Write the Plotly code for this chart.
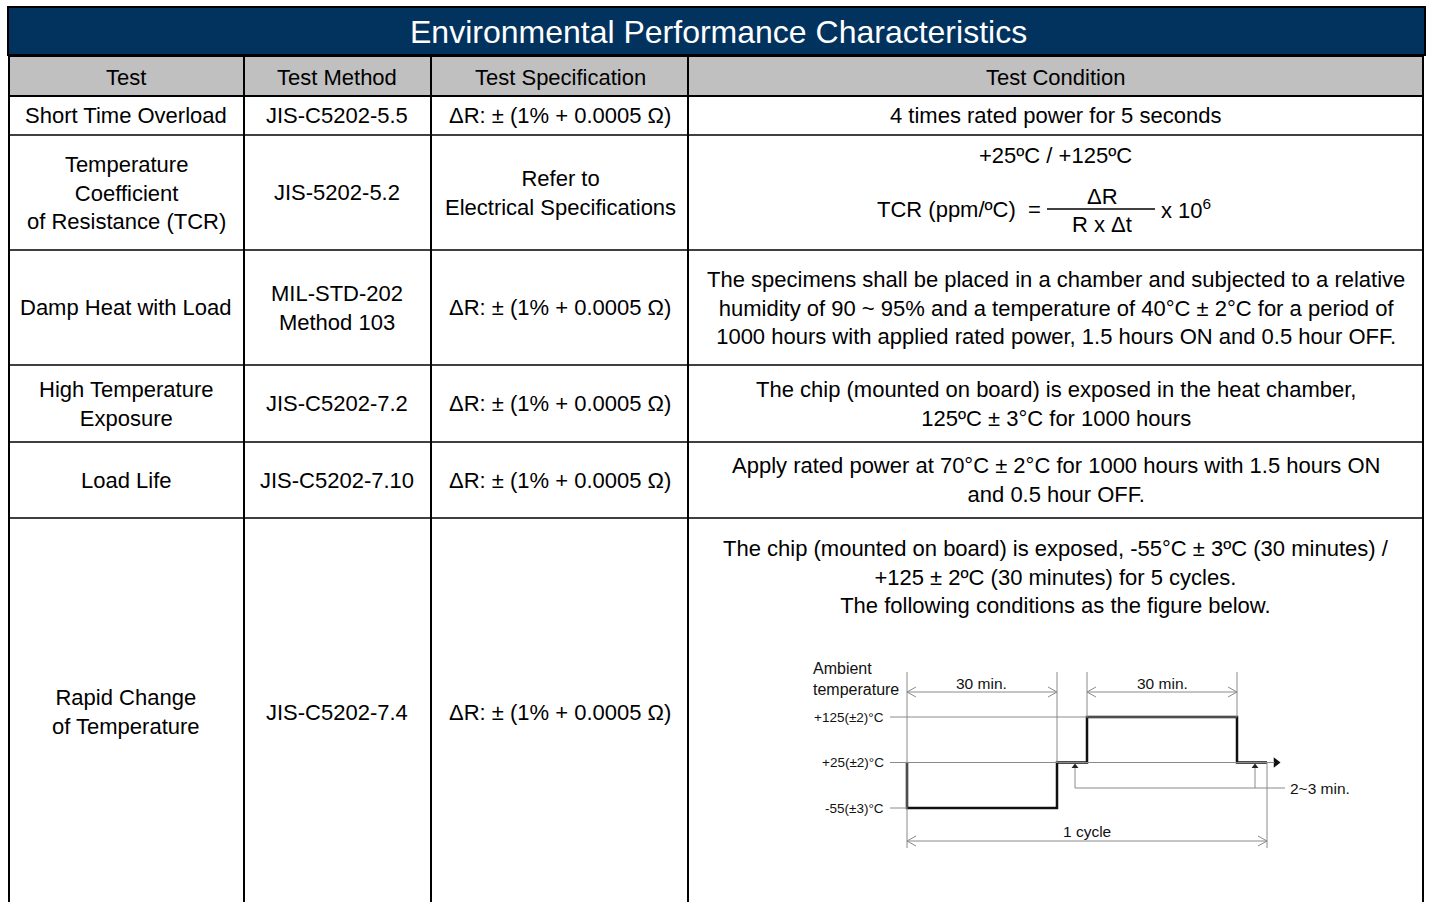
import plotly.graph_objects as go

# ---------------- table content ----------------
title_text = "Environmental Performance Characteristics"
headers = ["Test", "Test Method", "Test Specification", "Test Condition"]
tests = ["Short Time Overload", "Temperature<br>Coefficient<br>of Resistance (TCR)", "Damp Heat with Load",
         "High Temperature<br>Exposure", "Load Life", "Rapid Change<br>of Temperature"]
methods = ["JIS-C5202-5.5", "JIS-5202-5.2", "MIL-STD-202<br>Method 103", "JIS-C5202-7.2",
           "JIS-C5202-7.10", "JIS-C5202-7.4"]
specs = ["ΔR: ± (1% + 0.0005 Ω)", "Refer to<br>Electrical Specifications", "ΔR: ± (1% + 0.0005 Ω)",
         "ΔR: ± (1% + 0.0005 Ω)", "ΔR: ± (1% + 0.0005 Ω)", "ΔR: ± (1% + 0.0005 Ω)"]
conditions = [
    "4 times rated power for 5 seconds",
    None,
    "The specimens shall be placed in a chamber and subjected to a relative<br>"
    "humidity of 90 ~ 95% and a temperature of 40°C ± 2°C for a period of<br>"
    "1000 hours with applied rated power, 1.5 hours ON and 0.5 hour OFF.",
    "The chip (mounted on board) is exposed in the heat chamber,<br>125ºC ± 3°C for 1000 hours",
    "Apply rated power at 70°C ± 2°C for 1000 hours with 1.5 hours ON<br>and 0.5 hour OFF.",
    "The chip (mounted on board) is exposed, -55°C ± 3ºC (30 minutes) /<br>"
    "+125 ± 2ºC (30 minutes) for 5 cycles.<br>The following conditions as the figure below.",
]
tcr_temps = "+25ºC / +125ºC"
tcr_lhs = "TCR (ppm/ºC)  ="
tcr_num = "ΔR"
tcr_den = "R x Δt"
tcr_rhs = "x 10<sup>6</sup>"

# ---------------- layout grid (pixels) ----------------
W, H = 1429, 902
col_edges = [9, 244, 431, 688, 1423]
row_edges = [56, 96, 135, 250, 365, 442, 518, 910]
title_box = [8, 7, 1425, 55]
cond_y_override = {5: 577}  # row 6 condition text sits near top of cell

# ---------------- cycle diagram data ----------------
step_t = [0, 0, 30, 30, 36, 36, 66, 66, 72]
step_level = [1, 0, 0, 1, 1, 2, 2, 1, 1]
level_labels = ["-55(±3)°C", "+25(±2)°C", "+125(±2)°C"]
level_vals = [0, 1, 2]
dwell_spans = [(0, 30), (36, 66)]
dwell_label = "30 min."
transition_marks = [33.6, 69.6]
cycle_span = (0, 72)
cycle_label = "1 cycle"
transition_label = "2~3 min."
axis_title = "Ambient<br>temperature"

# diagram axis placement (pixels)
px_per_min = 5.0
px_per_level = 45.5
t0_px = 907
lvl0_px = 808
dx0, dx1 = 800, 1400
dy_top, dy_bot = 655, 865
x2_range = [(dx0 - t0_px) / px_per_min, (dx1 - t0_px) / px_per_min]
y2_range = [-(dy_bot - lvl0_px) / px_per_level, (lvl0_px - dy_top) / px_per_level]

FONT = "Arial, 'Liberation Sans', sans-serif"
NAVY = "#02335F"
GREY_HDR = "#C0C0C0"
DIAG_GREY = "#8a8a8a"
DIAG_TXT = "#111111"

fig = go.Figure()
# invisible trace to anchor main pixel axes
fig.add_trace(go.Scatter(x=[0, W], y=[0, H], mode="markers", marker=dict(opacity=0), hoverinfo="skip",
                         xaxis="x", yaxis="y"))

shapes = []
ann = []

# title bar
shapes.append(dict(type="rect", xref="x", yref="y", x0=title_box[0], y0=title_box[1], x1=title_box[2], y1=title_box[3],
                   fillcolor=NAVY, line=dict(color="black", width=2), layer="below"))
ann.append(dict(x=(title_box[0] + title_box[2]) / 2 + 2, y=(title_box[1] + title_box[3]) / 2 + 1, xref="x", yref="y",
                text=title_text, showarrow=False, font=dict(family=FONT, size=32, color="white")))
# header fill
shapes.append(dict(type="rect", xref="x", yref="y", x0=col_edges[0], y0=row_edges[0], x1=col_edges[-1], y1=row_edges[1],
                   fillcolor=GREY_HDR, line=dict(width=0), layer="below"))
# grid lines
for x in col_edges:
    shapes.append(dict(type="line", xref="x", yref="y", x0=x, x1=x, y0=row_edges[0], y1=row_edges[-1],
                       line=dict(color="black", width=2)))
for i, y in enumerate(row_edges[:-1]):
    shapes.append(dict(type="line", xref="x", yref="y", x0=col_edges[0], x1=col_edges[-1], y0=y, y1=y,
                       line=dict(color="black", width=2 if i < 2 else 1.5)))

col_centers = [126, 337, 560, (col_edges[3] + col_edges[4]) / 2]


def txt(x, y, s, size=22, xanchor="center", color="black"):
    ann.append(dict(x=x, y=y, xref="x", yref="y", text=s, showarrow=False, xanchor=xanchor, yanchor="middle",
                    font=dict(family=FONT, size=size, color=color)))


hy = (row_edges[0] + row_edges[1]) / 2 + 1
for c, h in zip(col_centers, headers):
    txt(c, hy, h)

row_centers = [(row_edges[i + 1] + row_edges[i + 2]) / 2 for i in range(len(tests))]
row_centers[5] = 712
for i in range(len(tests)):
    y = row_centers[i]
    txt(col_centers[0], y, tests[i])
    txt(col_centers[1], y, methods[i])
    txt(col_centers[2], y, specs[i])
    if conditions[i] is not None:
        txt(col_centers[3], cond_y_override.get(i, y), conditions[i])

# TCR formula
txt(col_centers[3], 155, tcr_temps)
txt(1043, 209, tcr_lhs, xanchor="right")
txt(1102, 196, tcr_num)
txt(1102, 224, tcr_den)
txt(1159, 209, tcr_rhs, xanchor="left")
shapes.append(dict(type="line", xref="x", yref="y", x0=1047, x1=1155, y0=209, y1=209, line=dict(color="black", width=1.5)))

# ---------------- diagram on its own axes ----------------
fig.add_trace(go.Scatter(x=step_t, y=step_level, mode="lines", line=dict(color="#111", width=2.5, shape="linear"),
                         xaxis="x2", yaxis="y2", hoverinfo="skip"))

tick_left = (890 - t0_px) / px_per_min  # where reference lines start (left of time 0)
top_lvl = (lvl0_px - 672) / px_per_level
arrow_lvl = (lvl0_px - 692) / px_per_level
label_lvl = (lvl0_px - 683) / px_per_level
cycle_lvl = -(841 - lvl0_px) / px_per_level
cycle_bottom = -(848 - lvl0_px) / px_per_level
mark_lvl = (lvl0_px - 788) / px_per_level
axis_end = (1282 - t0_px) / px_per_min

gl = dict(color=DIAG_GREY, width=1)


def l2(x0, y0, x1, y1, line=gl):
    shapes.append(dict(type="line", xref="x2", yref="y2", x0=x0, y0=y0, x1=x1, y1=y1, line=line))


# horizontal reference lines
l2(tick_left, 2, dwell_spans[1][1], 2)
l2(tick_left, 1, axis_end - 1.5, 1)
l2(tick_left, 0, 0, 0)
# vertical guides
l2(0, top_lvl, 0, cycle_bottom)
l2(dwell_spans[0][1], top_lvl, dwell_spans[0][1], 1)
l2(dwell_spans[1][0], top_lvl, dwell_spans[1][0], 2)
l2(dwell_spans[1][1], top_lvl, dwell_spans[1][1], 2)
l2(cycle_span[1], 1, cycle_span[1], cycle_bottom)

# dimension arrows with open chevrons
chev_x, chev_y = [], []
hd_t = 1.8
hd_l = 0.11


def dim(a, b, lvl):
    l2(a, lvl, b, lvl)
    chev_x.extend([a + hd_t, a, a + hd_t, None, b - hd_t, b, b - hd_t, None])
    chev_y.extend([lvl + hd_l, lvl, lvl - hd_l, None, lvl + hd_l, lvl, lvl - hd_l, None])


dsize = 15.5
for (a, b) in dwell_spans:
    dim(a, b, arrow_lvl)
    ann.append(dict(x=(a + b) / 2, y=label_lvl, xref="x2", yref="y2", text=dwell_label, showarrow=False,
                    font=dict(family=FONT, size=dsize, color=DIAG_TXT)))
dim(cycle_span[0], cycle_span[1], cycle_lvl)
ann.append(dict(x=sum(cycle_span) / 2, y=(lvl0_px - 831) / px_per_level, xref="x2", yref="y2", text=cycle_label,
                showarrow=False, font=dict(family=FONT, size=dsize, color=DIAG_TXT)))
fig.add_trace(go.Scatter(x=chev_x, y=chev_y, mode="lines", line=dict(color=DIAG_GREY, width=1), xaxis="x2", yaxis="y2",
                         hoverinfo="skip"))

# transition markers (thin stems with small filled heads)
l2(transition_marks[0], mark_lvl, axis_end + 0.6, mark_lvl)
for tm in transition_marks:
    l2(tm, mark_lvl, tm, 1.0 - 0.12)
fig.add_trace(go.Scatter(x=transition_marks, y=[1.0 - 0.09] * len(transition_marks), mode="markers",
                         marker=dict(symbol="triangle-up", size=6, color="#222"), xaxis="x2", yaxis="y2",
                         hoverinfo="skip"))
ann.append(dict(x=axis_end + 1.2, y=mark_lvl, xref="x2", yref="y2", text=transition_label, showarrow=False,
                xanchor="left", font=dict(family=FONT, size=dsize, color=DIAG_TXT)))
# time axis arrow head
fig.add_trace(go.Scatter(x=[axis_end - 1.2], y=[1], mode="markers", marker=dict(symbol="triangle-right", size=9,
                         color="#111"), xaxis="x2", yaxis="y2", hoverinfo="skip"))

# level labels
for lv, lab in zip(level_vals, level_labels):
    ann.append(dict(x=tick_left - 0.8, y=lv, xref="x2", yref="y2", text=lab, showarrow=False, xanchor="right",
                    font=dict(family=FONT, size=13.5, color=DIAG_TXT)))
ann.append(dict(x=(811 - t0_px) / px_per_min, y=(lvl0_px - 679) / px_per_level, xref="x2", yref="y2", text=axis_title,
                showarrow=False, xanchor="left", align="left",
                font=dict(family=FONT, size=16, color=DIAG_TXT)))

fig.update_layout(
    width=W, height=H, margin=dict(l=0, r=0, t=0, b=0),
    paper_bgcolor="white", plot_bgcolor="rgba(0,0,0,0)", showlegend=False,
    xaxis=dict(range=[0, W], domain=[0, 1], visible=False, fixedrange=True),
    yaxis=dict(range=[H, 0], domain=[0, 1], visible=False, fixedrange=True),
    xaxis2=dict(range=x2_range, domain=[dx0 / W, dx1 / W], visible=False, anchor="y2", fixedrange=True),
    yaxis2=dict(range=y2_range, domain=[1 - dy_bot / H, 1 - dy_top / H], visible=False, anchor="x2", fixedrange=True),
    shapes=shapes, annotations=ann,
)

fig.write_html("out.html", config={"displayModeBar": False},
               post_script="document.body.style.margin='0';document.body.style.overflow='hidden';")
